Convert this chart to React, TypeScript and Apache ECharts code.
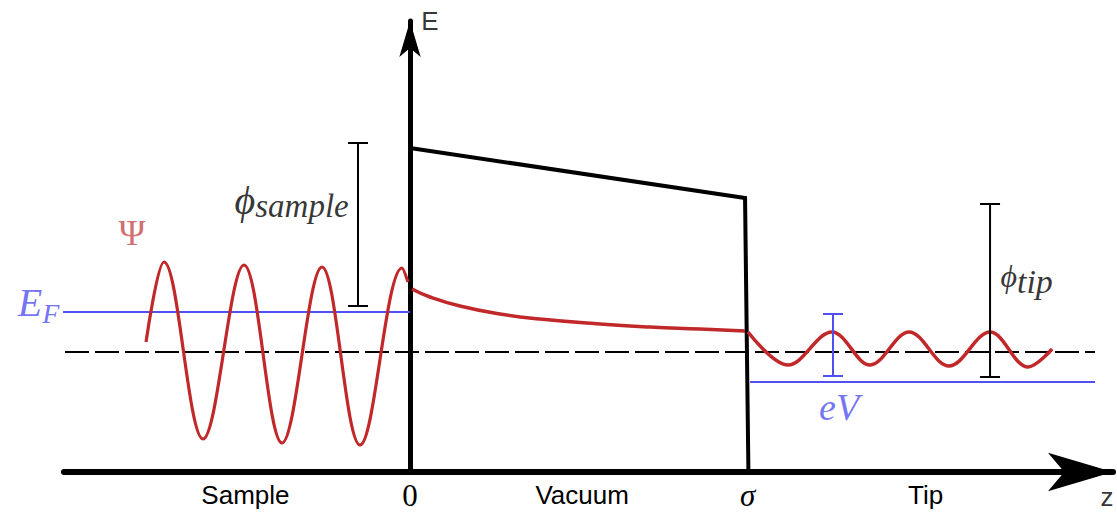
import React, { useEffect, useRef } from "react";
import * as echarts from "echarts";

// ---- axis extents (z in arbitrary units, sigma = 4; E in arbitrary units) ----
const Z_MIN = -4.1;
const Z_MAX = 8.33;
const E_MIN = 0;
const E_MAX = 11.275;

// ---- reference levels ----
const dashedZ = [-4.088, 8.117];
const dashedE = 3.0;
const fermiSampleZ = [-4.124, 0];
const fermiSampleE = 4.0;
const fermiTipZ = [4.03, 8.117];
const fermiTipE = 2.25;

// ---- potential barrier ----
const barrierZ = [0, 3.97, 4.01];
const barrierE = [8.1, 6.85, 0];

// ---- wavefunction: sample side (start, extrema, end) ----
const waveSampleZ = [-3.128, -2.915, -2.453, -1.967, -1.517, -1.043, -0.592, -0.095, -0.024];
const waveSampleE = [3.25, 5.25, 0.825, 5.175, 0.725, 5.125, 0.675, 5.1, 4.75];

// ---- wavefunction: decay in vacuum ----
const waveVacuumZ = [0.024, 0.237, 0.592, 1.066, 1.54, 2.251, 2.844, 3.436, 3.97];
const waveVacuumE = [4.575, 4.375, 4.15, 3.95, 3.825, 3.7, 3.625, 3.575, 3.525];

// ---- wavefunction: tip side (extrema, end) ----
const waveTipZ = [4.005, 4.479, 5.0, 5.451, 5.913, 6.387, 6.873, 7.323, 7.608];
const waveTipE = [3.5, 2.675, 3.5, 2.675, 3.5, 2.65, 3.5, 2.625, 3.075];

// ---- energy brackets: phi_sample, eV, phi_tip ----
const bracketNames = ["phiSample", "eV", "phiTip"];
const bracketZ = [-0.616, 5.012, 6.873];
const bracketLow = [4.15, 2.4, 2.375];
const bracketHigh = [8.225, 3.95, 6.7];

// ---- region labels under the z axis ----
const regionNames = ["Sample", "0", "Vacuum", "σ", "Tip"];
const regionZ = [-1.95, 0, 2.04, 4, 6.11];

// ---- annotation labels ----
const labelNames = ["E", "z", "Psi", "EF", "phiSample", "phiTip", "eV"];
const labelZ = [0.237, 8.26, -3.294, -4.15, -0.72, 6.99, 5.084];
const labelE = [11.275, -0.625, 5.975, 4.25, 6.8, 4.9, 1.625];

const BLACK = "#000000";
const RED = "#c0282a";
const PSI_RED = "#c54848";
const BLUE = "#4f4ff2";

const zip = (xs: number[], ys: number[] | number) =>
  xs.map((x, i) => [x, Array.isArray(ys) ? ys[i] : ys]);

export default function App() {
  const ref = useRef<HTMLDivElement>(null);

  useEffect(() => {
    document.body.style.margin = "0";
    if (!ref.current) return;
    const chart = echarts.init(ref.current, undefined, { renderer: "svg" });

    const serif = "'Liberation Serif', 'DejaVu Serif', serif";
    const sans = "'Liberation Sans', Arial, sans-serif";

    const labelText: Record<string, string> = {
      E: "{ax|E}",
      z: "{ax|z}",
      Psi: "{psi|Ψ}",
      EF: "{ef|E}{efs|F}",
      phiSample: "{phi|ϕ}{sub|sample}",
      phiTip: "{phit|ϕ}{subt|tip}",
      eV: "{ev|eV}",
    };
    const labelPos: Record<string, string> = {
      E: "inside",
      z: "inside",
      Psi: "inside",
      EF: "left",
      phiSample: "left",
      phiTip: "right",
      eV: "inside",
    };

    const rich = {
      ax: { fontFamily: sans, fontSize: 26, color: BLACK },
      psi: { fontFamily: serif, fontSize: 36, color: PSI_RED },
      ef: { fontFamily: serif, fontStyle: "italic", fontSize: 40, color: BLUE },
      efs: { fontFamily: serif, fontStyle: "italic", fontSize: 28, color: BLUE, padding: [22, 0, 0, 0] },
      phi: { fontFamily: serif, fontStyle: "italic", fontSize: 40, color: BLACK },
      sub: { fontFamily: serif, fontStyle: "italic", fontSize: 33, color: BLACK, padding: [12, 0, 0, 0] },
      phit: { fontFamily: serif, fontStyle: "italic", fontSize: 32, color: BLACK },
      subt: { fontFamily: serif, fontStyle: "italic", fontSize: 34, color: BLACK, padding: [10, 0, 0, 0] },
      ev: { fontFamily: serif, fontStyle: "italic", fontSize: 38, color: BLUE },
      s: { fontFamily: sans, fontSize: 26, lineHeight: 24, color: BLACK },
      m: { fontFamily: serif, fontSize: 31, lineHeight: 24, color: BLACK },
      mi: { fontFamily: serif, fontStyle: "italic", fontSize: 31, lineHeight: 24, color: BLACK },
    };

    const regionStyle = ["s", "m", "s", "mi", "s"];

    const bracketColor = [BLACK, BLUE, BLACK];

    const bracketSeries = bracketNames.map((name, i) => ({
      name,
      type: "line",
      data: [
        [bracketZ[i], bracketLow[i]],
        [bracketZ[i], bracketHigh[i]],
      ],
      symbol: "rect",
      symbolSize: [20, 2],
      showSymbol: true,
      clip: false,
      lineStyle: { color: bracketColor[i], width: 2 },
      itemStyle: { color: bracketColor[i] },
      z: 4,
    }));

    const option = {
      animation: false,
      grid: { left: 64, top: 21, width: 1049, height: 451, containLabel: false },
      xAxis: {
        type: "value",
        min: Z_MIN,
        max: Z_MAX,
        splitLine: { show: false },
        axisTick: { show: false },
        axisLine: {
          show: true,
          onZero: true,
          symbol: ["none", "arrow"],
          symbolSize: [29, 65],
          lineStyle: { color: BLACK, width: 6 },
        },
        axisLabel: {
          show: true,
          customValues: regionZ,
          margin: 11,
          rich,
          formatter: (v: number) => {
            let best = 0;
            regionZ.forEach((z, i) => {
              if (Math.abs(z - v) < Math.abs(regionZ[best] - v)) best = i;
            });
            return `{${regionStyle[best]}|${regionNames[best]}}`;
          },
        },
      },
      yAxis: {
        type: "value",
        min: E_MIN,
        max: E_MAX,
        splitLine: { show: false },
        axisTick: { show: false },
        axisLabel: { show: false },
        axisLine: {
          show: true,
          onZero: true,
          symbol: ["none", "arrow"],
          symbolSize: [16, 36],
          lineStyle: { color: BLACK, width: 5 },
        },
      },
      series: [
        {
          name: "vacuum level",
          type: "line",
          data: zip(dashedZ, dashedE),
          symbol: "none",
          clip: false,
          lineStyle: { color: BLACK, width: 2, type: [24, 6] },
          z: 1,
        },
        {
          name: "E_F sample",
          type: "line",
          data: zip(fermiSampleZ, fermiSampleE),
          symbol: "none",
          clip: false,
          lineStyle: { color: BLUE, width: 2 },
          z: 2,
        },
        {
          name: "E_F tip",
          type: "line",
          data: zip(fermiTipZ, fermiTipE),
          symbol: "none",
          clip: false,
          lineStyle: { color: BLUE, width: 2 },
          z: 2,
        },
        {
          name: "barrier",
          type: "line",
          data: zip(barrierZ, barrierE),
          symbol: "none",
          clip: false,
          lineStyle: { color: BLACK, width: 4, join: "miter" },
          z: 3,
        },
        {
          name: "psi sample",
          type: "line",
          data: zip(waveSampleZ, waveSampleE),
          smooth: 0.36,
          symbol: "none",
          clip: false,
          lineStyle: { color: RED, width: 3.2 },
          z: 3,
        },
        {
          name: "psi vacuum",
          type: "line",
          data: zip(waveVacuumZ, waveVacuumE),
          smooth: 0.5,
          symbol: "none",
          clip: false,
          lineStyle: { color: RED, width: 3.5 },
          z: 3,
        },
        {
          name: "psi tip",
          type: "line",
          data: zip(waveTipZ, waveTipE),
          smooth: 0.36,
          symbol: "none",
          clip: false,
          lineStyle: { color: RED, width: 3.5 },
          z: 3,
        },
        ...bracketSeries,
        {
          name: "labels",
          type: "scatter",
          clip: false,
          symbolSize: 1,
          itemStyle: { color: "rgba(0,0,0,0)" },
          silent: true,
          z: 5,
          data: labelNames.map((n, i) => ({
            name: n,
            value: [labelZ[i], labelE[i]],
            label: {
              show: true,
              position: labelPos[n],
              distance: 0,
              formatter: labelText[n],
              rich,
            },
          })),
        },
      ],
    };

    chart.setOption(option as any);
    return () => chart.dispose();
  }, []);

  return <div ref={ref} style={{ width: 1117, height: 512 }} />;
}
